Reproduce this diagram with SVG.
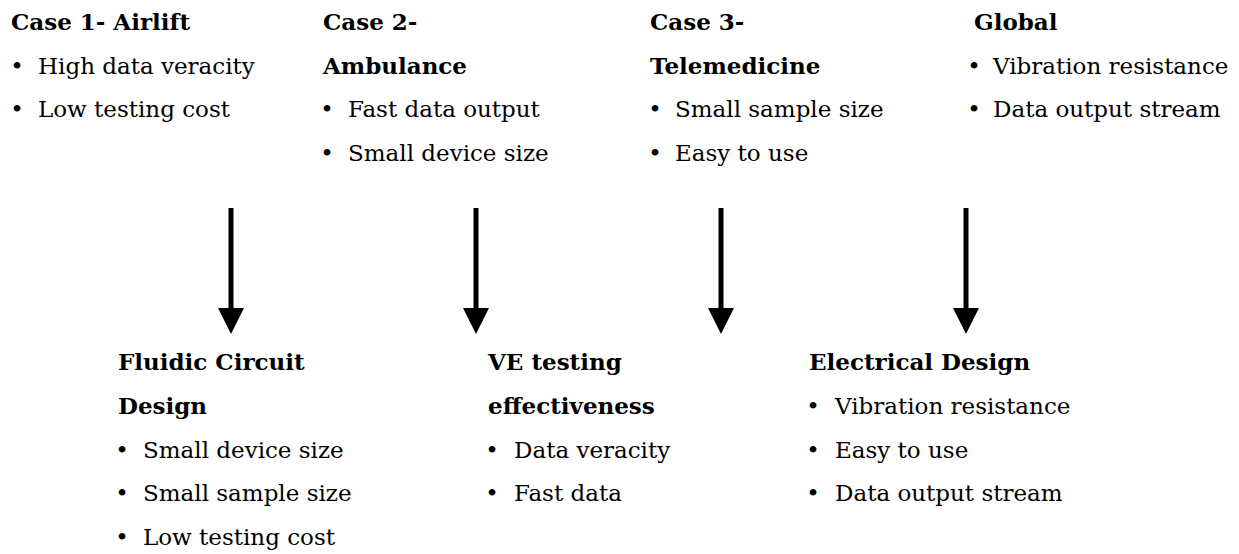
<svg xmlns="http://www.w3.org/2000/svg" width="1239" height="554" viewBox="0 0 1239 554">
  <style>
    text { font-family: "DejaVu Serif", "Liberation Serif", serif; font-size: 23px; fill: #000; }
    .h { font-weight: bold; }
    .b { text-anchor: middle; }
    .arrow { stroke: #000; stroke-width: 5; fill: none; marker-end: url(#head); }
  </style>
  <defs>
    <marker id="head" viewBox="0 0 26 26" refX="0" refY="13" markerWidth="26" markerHeight="26" markerUnits="userSpaceOnUse" orient="auto">
      <path d="M0,0 L26,13 L0,26 Z" fill="#000"/>
    </marker>
  </defs>
  <rect width="1239" height="554" fill="#fff"/>

  <g id="case1">
    <text class="h" x="11" y="30">Case 1- Airlift</text>
    <text class="b" x="17" y="73.5">•</text>
    <text x="38" y="73.5">High data veracity</text>
    <text class="b" x="17" y="117">•</text>
    <text x="38" y="117">Low testing cost</text>
  </g>

  <g id="case2">
    <text class="h" x="323" y="30">Case 2-</text>
    <text class="h" x="323" y="73.5">Ambulance</text>
    <text class="b" x="327" y="117">•</text>
    <text x="348" y="117">Fast data output</text>
    <text class="b" x="327" y="160.5">•</text>
    <text x="348" y="160.5">Small device size</text>
  </g>

  <g id="case3">
    <text class="h" x="650" y="30">Case 3-</text>
    <text class="h" x="650" y="73.5">Telemedicine</text>
    <text class="b" x="655" y="117">•</text>
    <text x="675" y="117">Small sample size</text>
    <text class="b" x="655" y="160.5">•</text>
    <text x="675" y="160.5">Easy to use</text>
  </g>

  <g id="global">
    <text class="h" x="974" y="30">Global</text>
    <text class="b" x="974" y="73.5">•</text>
    <text x="993" y="73.5">Vibration resistance</text>
    <text class="b" x="974" y="117">•</text>
    <text x="993" y="117">Data output stream</text>
  </g>

  <g id="connectors">
    <line class="arrow" x1="231" y1="208" x2="231" y2="308"/>
    <line class="arrow" x1="476" y1="208" x2="476" y2="308"/>
    <line class="arrow" x1="721" y1="208" x2="721" y2="308"/>
    <line class="arrow" x1="966" y1="208" x2="966" y2="308"/>
  </g>

  <g id="fluidic">
    <text class="h" x="118" y="370">Fluidic Circuit</text>
    <text class="h" x="118" y="414">Design</text>
    <text class="b" x="122" y="458">•</text>
    <text x="143" y="458">Small device size</text>
    <text class="b" x="122" y="501">•</text>
    <text x="143" y="501">Small sample size</text>
    <text class="b" x="122" y="545">•</text>
    <text x="143" y="545">Low testing cost</text>
  </g>

  <g id="ve">
    <text class="h" x="488" y="370">VE testing</text>
    <text class="h" x="488" y="414">effectiveness</text>
    <text class="b" x="492" y="458">•</text>
    <text x="514" y="458">Data veracity</text>
    <text class="b" x="492" y="501">•</text>
    <text x="514" y="501">Fast data</text>
  </g>

  <g id="electrical">
    <text class="h" x="809" y="370">Electrical Design</text>
    <text class="b" x="813" y="414">•</text>
    <text x="835" y="414">Vibration resistance</text>
    <text class="b" x="813" y="458">•</text>
    <text x="835" y="458">Easy to use</text>
    <text class="b" x="813" y="501">•</text>
    <text x="835" y="501">Data output stream</text>
  </g>
</svg>
